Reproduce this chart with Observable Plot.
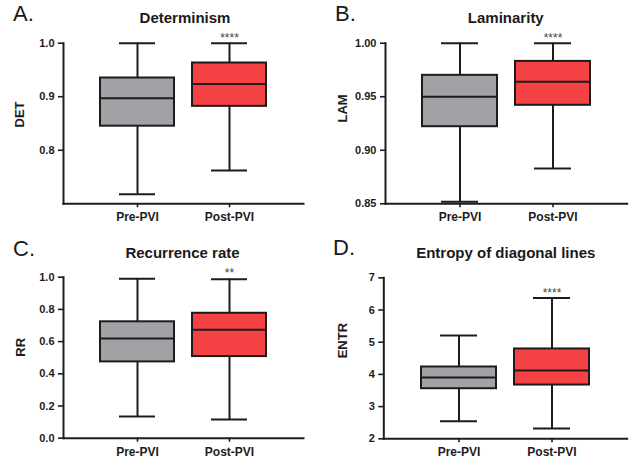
<!DOCTYPE html>
<html>
<head>
<meta charset="utf-8">
<script src="https://cdn.jsdelivr.net/npm/d3@7"></script>
<script src="https://cdn.jsdelivr.net/npm/@observablehq/plot@0.6"></script>
<style>
  html, body { margin: 0; padding: 0; background: #fff; }
  #root { position: relative; width: 631px; height: 459px; background: #fff; font-family: "Liberation Sans", Arial, sans-serif; color: #1a1a1a; overflow: hidden; }
  .panel { position: absolute; }
  .letter { position: absolute; font-size: 22px; line-height: 22px; font-weight: normal; white-space: nowrap; }
  .title { position: absolute; width: 300px; text-align: center; font-size: 15px; line-height: 15px; font-weight: bold; white-space: nowrap; }
</style>
</head>
<body>
<div id="root"></div>
<script>
// ---- data ----
const groups = ["Pre-PVI", "Post-PVI"];
// five-number summaries: [min, q1, median, q3, max]
const detPre  = [0.718, 0.845, 0.897, 0.935, 1.000];
const detPost = [0.762, 0.882, 0.924, 0.963, 1.000];
const lamPre  = [0.852, 0.922, 0.950, 0.970, 1.000];
const lamPost = [0.883, 0.942, 0.964, 0.983, 1.000];
const rrPre   = [0.135, 0.474, 0.619, 0.723, 0.990];
const rrPost  = [0.116, 0.507, 0.673, 0.776, 0.988];
const entrPre = [2.545, 3.555, 3.900, 4.230, 5.210];
const entrPost= [2.320, 3.670, 4.120, 4.790, 6.370];
const detTicks  = [0.8, 0.9, 1.0];
const lamTicks  = [0.85, 0.90, 0.95, 1.00];
const rrTicks   = [0.0, 0.2, 0.4, 0.6, 0.8, 1.0];
const entrTicks = [2, 3, 4, 5, 6, 7];
const significance = ["****", "****", "**", "****"];
const titles = ["Determinism", "Laminarity", "Recurrence rate", "Entropy of diagonal lines"];
const letters = ["A.", "B.", "C.", "D."];
const yLabels = ["DET", "LAM", "RR", "ENTR"];

const boxColors = ["#a3a1a6", "#f54245"];
const ink = "#1c1c1c";

function rowsFrom(pre, post) {
  return [pre, post].map((s, i) => ({group: groups[i], min: s[0], q1: s[1], med: s[2], q3: s[3], max: s[4]}));
}

function panel(cfg) {
  const rows = rowsFrom(cfg.pre, cfg.post);
  return Plot.plot({
    width: cfg.width, height: cfg.height,
    marginLeft: cfg.ml, marginRight: cfg.mr, marginTop: cfg.mt, marginBottom: cfg.mb,
    style: {fontFamily: "'Liberation Sans', Arial, sans-serif", fontWeight: "bold", fontSize: "11px", color: ink, background: "transparent", overflow: "visible"},
    x: {domain: groups, paddingInner: 0.194, paddingOuter: 0.392, axis: null},
    y: {domain: cfg.domain, axis: null},
    color: {domain: groups, range: boxColors},
    marks: [
      Plot.ruleX(rows, {x: "group", y1: "min", y2: "q1", stroke: ink, strokeWidth: 2}),
      Plot.ruleX(rows, {x: "group", y1: "q3", y2: "max", stroke: ink, strokeWidth: 2}),
      Plot.tickY(rows, {x: "group", y: "min", stroke: ink, strokeWidth: 2, insetLeft: 19, insetRight: 19}),
      Plot.tickY(rows, {x: "group", y: "max", stroke: ink, strokeWidth: 2, insetLeft: 19, insetRight: 19}),
      Plot.barY(rows, {x: "group", y1: "q1", y2: "q3", fill: "group", stroke: ink, strokeWidth: 2}),
      Plot.tickY(rows, {x: "group", y: "med", stroke: ink, strokeWidth: 2}),
      Plot.axisY({ticks: cfg.ticks, tickFormat: cfg.fmt, tickSize: 5, tickPadding: 4, fontSize: 11, stroke: ink, strokeWidth: 1.6, label: null}),
      Plot.axisX({tickSize: 4, tickPadding: 5, fontSize: 12, label: null, stroke: ink, strokeWidth: 1.6}),
      Plot.frame({anchor: "left", stroke: ink, strokeWidth: 2}),
      Plot.frame({anchor: "bottom", stroke: ink, strokeWidth: 2}),
      Plot.text([cfg.label], {frameAnchor: "left", rotate: -90, dx: cfg.labelDx, dy: cfg.labelDy, fontSize: 13, fontWeight: "bold", fill: ink}),
      Plot.text(rows.filter(d => d.group === "Post-PVI"), {x: "group", text: () => cfg.sig, frameAnchor: "top", dy: cfg.starDy, fontSize: 12, fontWeight: "normal", fill: "#444"})
    ]
  });
}

const root = document.getElementById("root");
const configs = [
  {left: 0,   top: 0,   width: 315, height: 230, ml: 63,   mr: 12,  mt: 42.7, mb: 26.7, pre: detPre,  post: detPost,  domain: [0.7, 1.0],  ticks: detTicks,  fmt: d3.format(".1f"), starDy: -9.6,
   labelDx: -43.5, labelDy: 4, letterX: 13, letterY: 3, titleCx: 185, titleY: 10},
  {left: 315, top: 0,   width: 316, height: 230, ml: 70,   mr: 4.3, mt: 42.7, mb: 26.7, pre: lamPre,  post: lamPost,  domain: [0.85, 1.0], ticks: lamTicks,  fmt: d3.format(".2f"), starDy: -9.6,
   labelDx: -42.5, labelDy: -1, letterX: 335, letterY: 3, titleCx: 505.8, titleY: 10},
  {left: 0,   top: 230, width: 315, height: 229, ml: 63,   mr: 12,  mt: 46.7, mb: 21.3, pre: rrPre,   post: rrPost,   domain: [0, 1],      ticks: rrTicks,   fmt: d3.format(".1f"), starDy: -8.6,
   labelDx: -43, labelDy: -1, letterX: 13, letterY: 238, titleCx: 182.5, titleY: 244.6},
  {left: 315, top: 230, width: 316, height: 229, ml: 68.3, mr: 4.3, mt: 47.3, mb: 20.7, pre: entrPre, post: entrPost, domain: [2, 7],      ticks: entrTicks, fmt: d3.format("d"),   starDy: 10.8,
   labelDx: -40.8, labelDy: 0, letterX: 333, letterY: 236.5, titleCx: 505.8, titleY: 244.6}
];

configs.forEach((cfg, i) => {
  cfg.sig = significance[i];
  cfg.label = yLabels[i];
  const div = document.createElement("div");
  div.className = "panel";
  div.style.left = cfg.left + "px";
  div.style.top = cfg.top + "px";
  div.appendChild(panel(cfg));
  root.appendChild(div);

  const letter = document.createElement("div");
  letter.className = "letter";
  letter.textContent = letters[i];
  letter.style.left = cfg.letterX + "px";
  letter.style.top = cfg.letterY + "px";
  root.appendChild(letter);

  const title = document.createElement("div");
  title.className = "title";
  title.textContent = titles[i];
  title.style.left = (cfg.titleCx - 150) + "px";
  title.style.top = cfg.titleY + "px";
  root.appendChild(title);
});
</script>
</body>
</html>
